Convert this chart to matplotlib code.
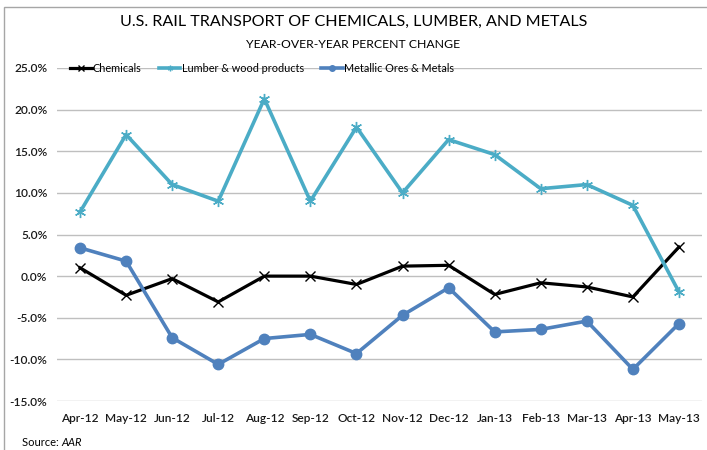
import matplotlib
matplotlib.use("Agg")
import matplotlib.pyplot as plt
from matplotlib.ticker import FuncFormatter
from matplotlib.patches import Rectangle

plt.rcParams['font.family'] = ['Lato', 'DejaVu Sans']

months = ["Apr-12", "May-12", "Jun-12", "Jul-12", "Aug-12", "Sep-12", "Oct-12",
          "Nov-12", "Dec-12", "Jan-13", "Feb-13", "Mar-13", "Apr-13", "May-13"]
chemicals = [1.0, -2.3, -0.3, -3.1, 0.0, 0.0, -1.0, 1.2, 1.3, -2.2, -0.8, -1.3, -2.5, 3.5]
lumber = [7.7, 17.0, 11.0, 9.0, 21.3, 9.0, 17.9, 10.0, 16.4, 14.6, 10.5, 11.0, 8.5, -1.9]
metals = [3.4, 1.8, -7.4, -10.6, -7.5, -7.0, -9.3, -4.7, -1.4, -6.7, -6.4, -5.4, -11.2, -5.7]
yticks = [-15, -10, -5, 0, 5, 10, 15, 20, 25]

fig = plt.figure(figsize=(7.07, 4.5), dpi=100)
fig.patches.append(Rectangle((4/707, -0.1), 1.2, (1 - 7/450) + 0.1, transform=fig.transFigure,
                             fill=False, edgecolor='#A6A6A6', lw=1.0))

ax = fig.add_axes([57/707, 1 - 401/450, (702 - 57)/707, (401 - 68)/450])
x = list(range(len(months)))

ax.plot(x, chemicals, color='black', lw=2.3, marker='x', ms=7, mew=1.0,
        label='Chemicals', zorder=3)
ax.plot(x, lumber, color='#4BACC6', lw=2.6, marker=(6, 2, 0), ms=8, mew=1.0,
        label='Lumber & wood products', zorder=4)
ax.plot(x, metals, color='#4F81BD', lw=2.6, marker='o', ms=7.5,
        label='Metallic Ores & Metals', zorder=5)

ax.set_xlim(-0.5, len(months) - 0.5)
ax.set_ylim(-15, 25)
ax.set_yticks(yticks)
ax.yaxis.set_major_formatter(FuncFormatter(lambda v, p: f"{v:.1f}%"))
ax.set_xticks(x)
ax.set_xticklabels(months)
ax.grid(axis='y', color='#BFBFBF', lw=1.0)
ax.set_axisbelow(True)
for s in ax.spines.values():
    s.set_visible(False)
ax.tick_params(axis='both', length=0, labelsize=8.6, colors='#1a1a1a')
ax.tick_params(axis='y', pad=7)
ax.tick_params(axis='x', pad=9)
for t in ax.get_xticklabels() + ax.get_yticklabels():
    t.set_fontweight('semibold')

leg = ax.legend(loc='center left', bbox_to_anchor=(13/645, 1.0), ncol=3, frameon=False,
                fontsize=7.8, handlelength=2.0, handletextpad=0.1, columnspacing=1.6,
                borderaxespad=0, borderpad=0)
for h in leg.legend_handles:
    h.set_markersize(4)

fig.text(0.5, 1 - 22/450, "U.S. RAIL TRANSPORT OF CHEMICALS, LUMBER, AND METALS",
         ha='center', va='center', fontsize=11.6)
fig.text(0.5, 1 - 45/450, "YEAR-OVER-YEAR PERCENT CHANGE",
         ha='center', va='center', fontsize=8.8)
t1 = fig.text(22/707, 1 - 443/450, "Source: ", ha='left', va='center', fontsize=8)
fig.canvas.draw()
bb = t1.get_window_extent()
fig.text(bb.x1 / fig.bbox.width, 1 - 443/450, "AAR", ha='left', va='center',
         fontsize=8, style='italic')

fig.savefig("out.png", dpi=100)
